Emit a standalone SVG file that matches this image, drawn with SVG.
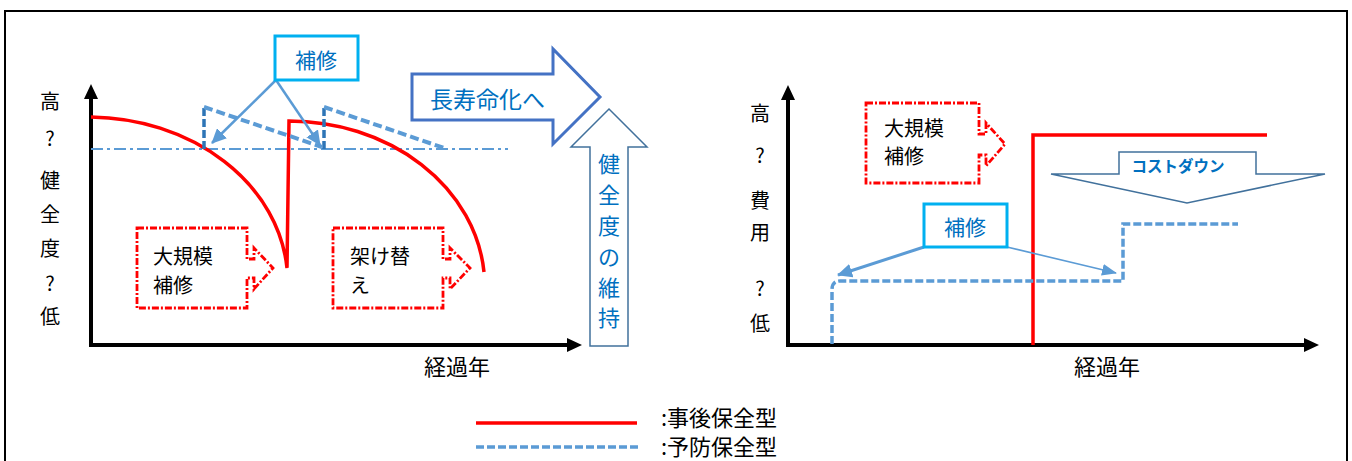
<svg xmlns="http://www.w3.org/2000/svg" width="1352" height="461" viewBox="0 0 1352 461">
<defs>
<style>
text{font-family:"Noto Sans CJK JP","Noto Sans",sans-serif;}
.lbl{font-size:20px;fill:#000;text-anchor:middle;}
.blk{font-size:20px;fill:#000;}
.blu{fill:#0070c0;}
.axis{stroke:#000;stroke-width:4;fill:none;}
.red{stroke:#ff0000;stroke-width:3.5;fill:none;}
.call{stroke:#ff0000;stroke-width:2.8;fill:#fff;stroke-dasharray:7 2 2 2;}
.prev{stroke:#5b9bd5;stroke-width:4;fill:none;stroke-dasharray:9 4;}
.prevd{stroke:#2e75b6;stroke-width:3.5;fill:none;stroke-dasharray:8 3;}
.ref{stroke:#5b9bd5;stroke-width:2;fill:none;stroke-dasharray:12 4 3 4;}
.ptr{stroke:#5b9bd5;fill:none;}
.hbox{stroke:#00b0f0;stroke-width:3;fill:#fff;}
</style>
<marker id="ah" markerUnits="userSpaceOnUse" markerWidth="16" markerHeight="14" refX="14" refY="7" orient="auto">
<path d="M0,0 L15,7 L0,14 z" fill="#5b9bd5"/>
</marker>
<marker id="ahs" markerUnits="userSpaceOnUse" markerWidth="16" markerHeight="14" refX="14" refY="7" orient="auto">
<path d="M0,1 L15,7 L0,13 z" fill="#5b9bd5"/>
</marker>
</defs>
<rect x="5" y="11" width="1342" height="470" fill="#fff" stroke="#000" stroke-width="2"/>

<g id="left-axes">
<path class="axis" d="M91,345 V96 M89,345 H570"/>
<path d="M91,84 L84,99 L98,99 z" fill="#000"/>
<path d="M582,345 L567,338 L567,352 z" fill="#000"/>
<text class="lbl" x="50" y="109">高</text>
<text class="lbl" x="50" y="146">?</text>
<text class="lbl" x="50" y="188">健</text>
<text class="lbl" x="50" y="222">全</text>
<text class="lbl" x="50" y="256">度</text>
<text class="lbl" x="50" y="291">?</text>
<text class="lbl" x="50" y="324">低</text>
<text class="lbl" x="457" y="375" style="font-size:22px">経過年</text>
</g>

<g id="right-axes">
<path class="axis" d="M788,345 V97 M786,345 H1306"/>
<path d="M788,85 L781,100 L795,100 z" fill="#000"/>
<path d="M1319,345 L1304,338 L1304,352 z" fill="#000"/>
<text class="lbl" x="760" y="121">高</text>
<text class="lbl" x="760" y="163">?</text>
<text class="lbl" x="760" y="208">費</text>
<text class="lbl" x="760" y="240">用</text>
<text class="lbl" x="760" y="296">?</text>
<text class="lbl" x="760" y="331">低</text>
<text class="lbl" x="1107" y="375" style="font-size:22px">経過年</text>
</g>

<g id="connectors">
<path class="ref" d="M91,149 H508"/>
<path class="red" d="M91,117 A200,165 0 0 1 287,268 L289,121 A196,165 0 0 1 484,272"/>
<path class="prevd" d="M204,149 V106 M324,149 V106"/>
<path class="prev" d="M204,107 L322,147 M324,107 L447,149"/>
<path class="ptr" stroke-width="2.5" marker-end="url(#ah)" d="M276,80 L212,143"/>
<path class="ptr" stroke-width="2.5" marker-end="url(#ah)" d="M276,80 L320,145"/>
<path class="red" d="M1033,345 V135 H1267"/>
<path class="prev" d="M832,344 V290 Q832,281 840,281 H1123 V224 H1238" style="stroke-width:3.5;stroke-dasharray:8 3"/>
<path class="ptr" stroke-width="3" marker-end="url(#ah)" d="M924,247 L838,275"/>
<path class="ptr" stroke-width="1.6" marker-end="url(#ahs)" d="M1007,247 L1116,273"/>
</g>

<g id="node-hoshu-left">
<rect class="hbox" x="275" y="36" width="83" height="44"/>
<text class="blu" x="316" y="68" text-anchor="middle" font-size="21">補修</text>
</g>

<g id="node-choju">
<path d="M412,74 H553 V49 L600,97 L553,144 V120 H412 z" fill="#fff" stroke="#4472c4" stroke-width="3"/>
<text class="blu" x="430" y="108" font-size="23">長寿命化へ</text>
</g>

<g id="node-kenzendo">
<path d="M609,109 L647,147 H628 V346 H590 V147 H571 z" fill="#fff" stroke="#41719c" stroke-width="1.5"/>
<g class="blu" font-size="22" text-anchor="middle">
<text x="609" y="172">健</text>
<text x="609" y="203">全</text>
<text x="609" y="234">度</text>
<text x="609" y="265">の</text>
<text x="609" y="296">維</text>
<text x="609" y="326">持</text>
</g>
</g>

<g id="node-daikibo-left">
<path class="call" d="M137,228 H247 V259 H254 V248 L273,268 L254,289 V278 H247 V308 H137 z"/>
<text class="blk" x="153" y="264">大規模</text>
<text class="blk" x="153" y="293">補修</text>
</g>

<g id="node-kakekae">
<path class="call" d="M333,228 H443 V259 H450 V248 L470,268 L450,289 V278 H443 V308 H333 z"/>
<text class="blk" x="350" y="264">架け替</text>
<text class="blk" x="350" y="293">え</text>
</g>

<g id="node-daikibo-right">
<path class="call" d="M866,103 H979 V134 H986 V123 L1005,144 L986,166 V155 H979 V183 H866 z"/>
<text class="blk" x="884" y="136">大規模</text>
<text class="blk" x="884" y="164">補修</text>
</g>

<g id="node-costdown">
<path d="M1119,152 H1256 V174 H1325 L1187,203 L1051,174 H1119 z" fill="#fff" stroke="#41719c" stroke-width="1.5"/>
<text class="blu" x="1178" y="172" text-anchor="middle" font-size="15.5" font-weight="bold">コストダウン</text>
</g>

<g id="node-hoshu-right">
<rect class="hbox" x="924" y="204" width="83" height="43"/>
<text class="blu" x="965" y="235" text-anchor="middle" font-size="21">補修</text>
</g>

<g id="legend">
<path class="red" d="M476,423 H637"/>
<path class="prev" d="M476,447 H640" style="stroke-width:3.5;stroke-dasharray:8 3"/>
<text class="blk" x="661" y="426" style="font-size:22px">:事後保全型</text>
<text class="blk" x="661" y="455" style="font-size:22px">:予防保全型</text>
</g>
</svg>
